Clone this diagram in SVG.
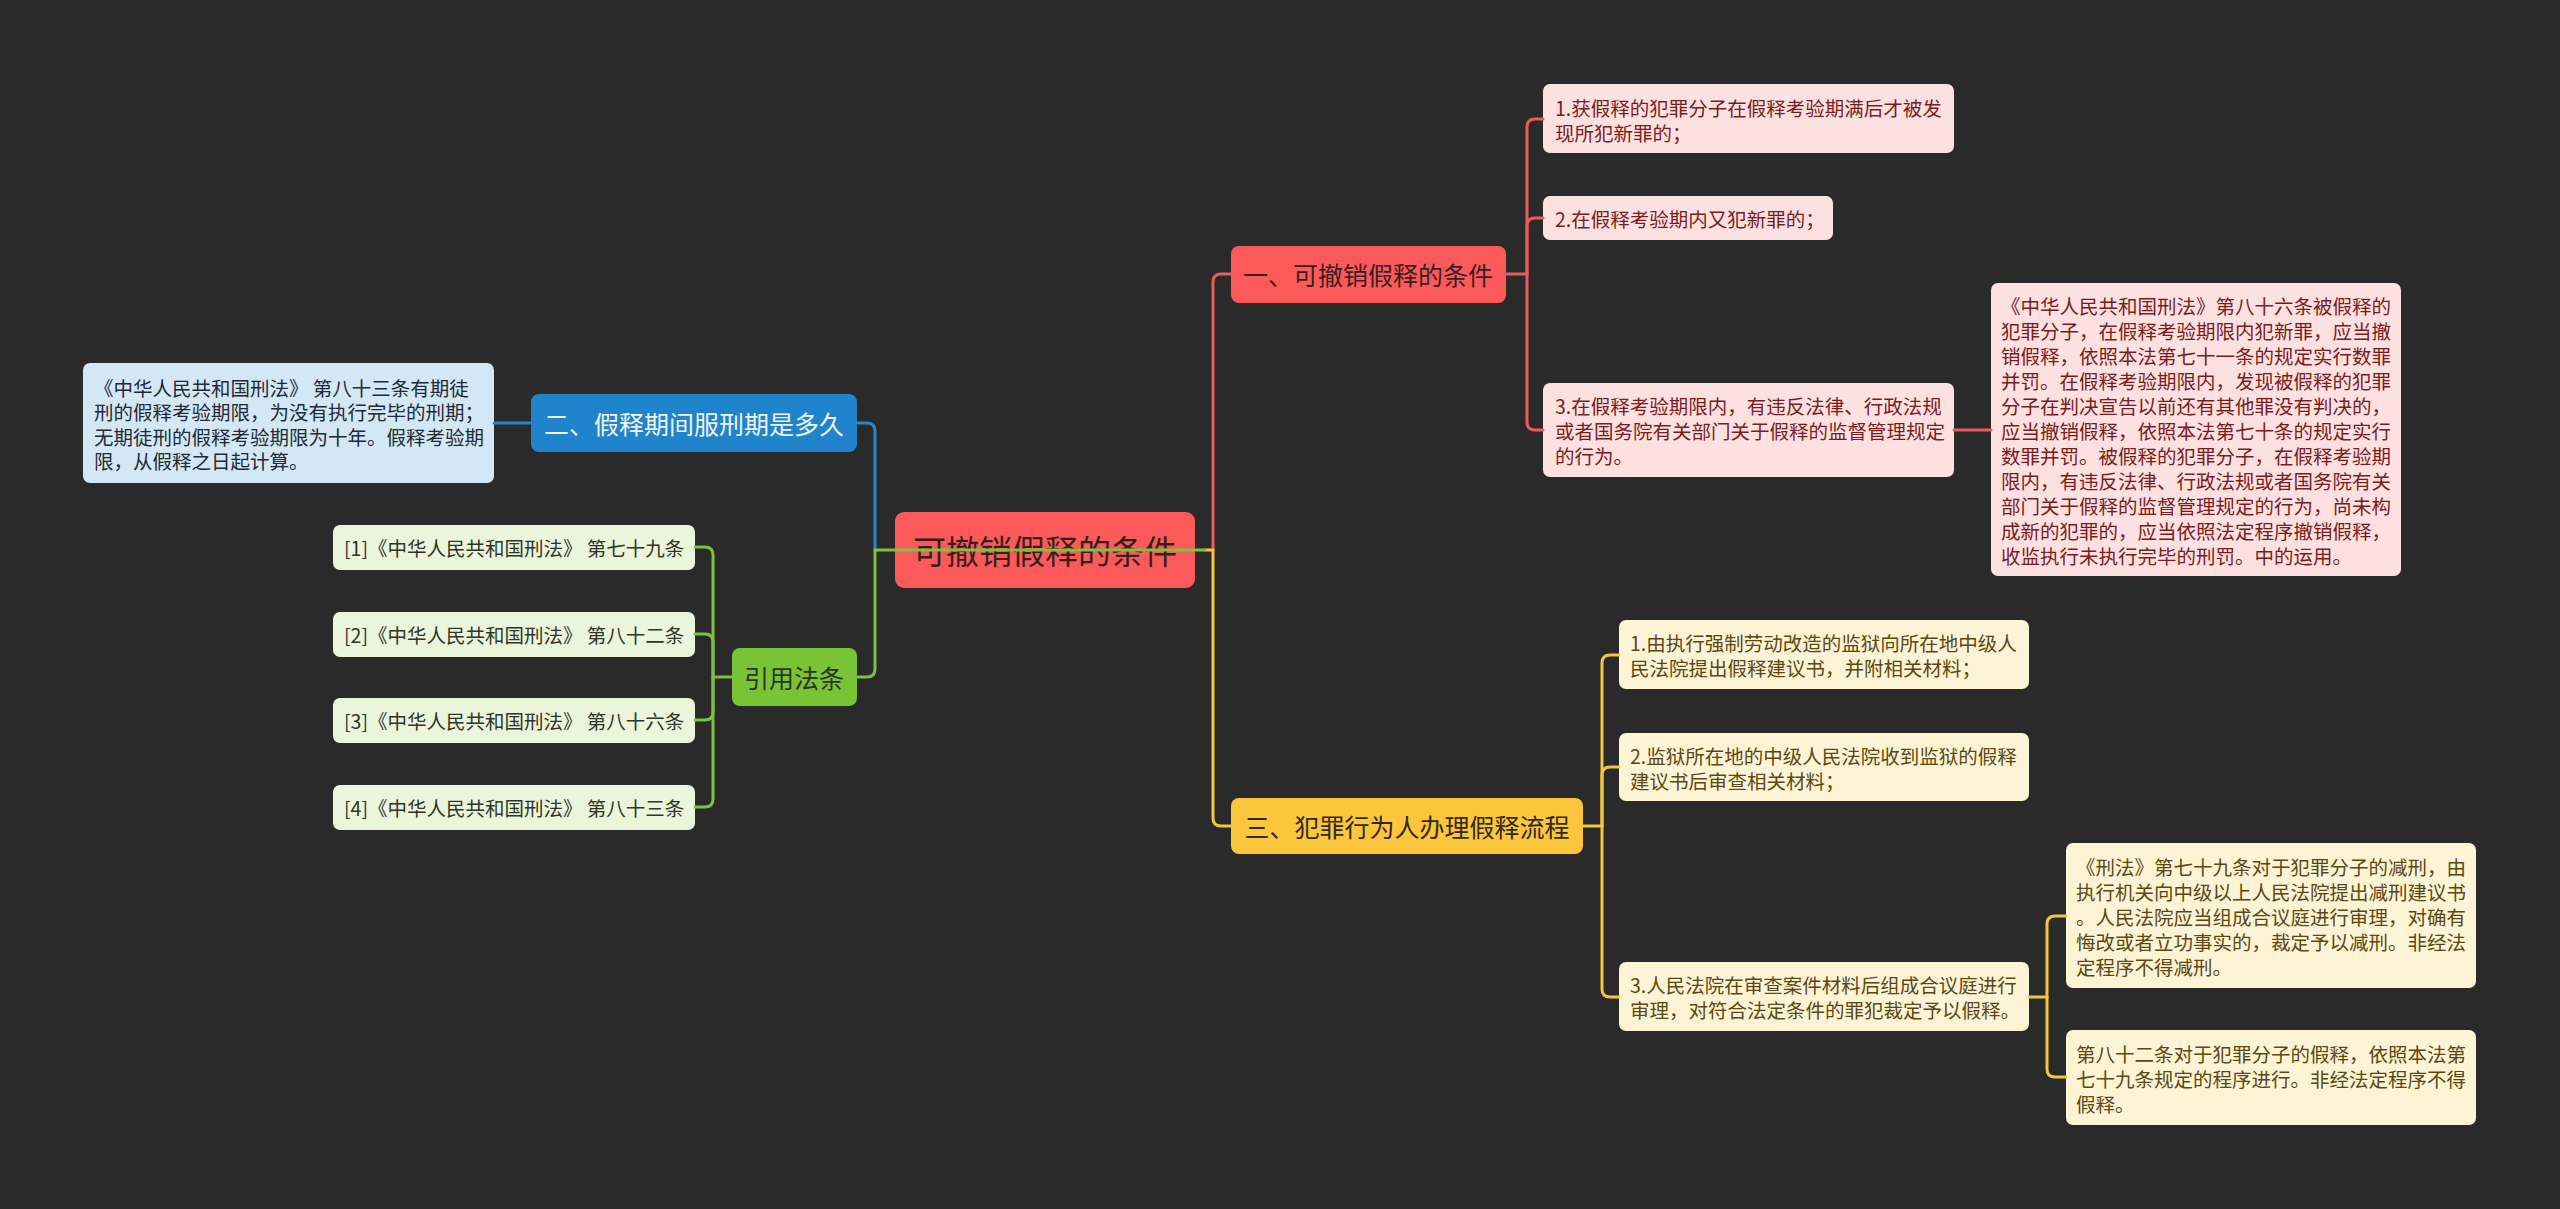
<svg xmlns="http://www.w3.org/2000/svg" width="2560" height="1209" viewBox="0 0 2560 1209">
<style>
text{font-family:"Noto Sans CJK SC","Noto Sans CJK JP",sans-serif;dominant-baseline:central}
.s{font-size:19.5px}
.l1{font-size:25px;text-anchor:middle}
.rt{font-size:33px;text-anchor:middle;fill:#3a1e1e}
.con path{fill:none;stroke-width:3;stroke-linecap:round}
.red{stroke:#e85c5c}.blue{stroke:#2a86c8}.green{stroke:#7cc23c}.yel{stroke:#f2c640}
.pk{fill:#fde1e1}.pkt{fill:#7a1c1c}
.yl{fill:#fdf4d6}.ylt{fill:#5c4712}
.gr{fill:#ebf5dc}.grt{fill:#2f3528}
.bl{fill:#d4e7f4}.blt{fill:#1e2a36}
</style>
<rect width="2560" height="1209" fill="#2a2a2a"/>

<g id="root"><rect x="895" y="512" width="300" height="76" rx="9" fill="#fc5a5a"/><text class="rt" x="1045" y="550">可撤销假释的条件</text></g>

<g id="n1"><rect x="1231" y="246" width="275" height="57" rx="8" fill="#fc5a5a"/><text class="l1" x="1368" y="274" fill="#3a1e1e">一、可撤销假释的条件</text></g>
<g id="n1c1"><rect class="pk" x="1543" y="84" width="411" height="69" rx="7"/><text class="s pkt"><tspan x="1555" y="107">1.获假释的犯罪分子在假释考验期满后才被发</tspan><tspan x="1555" y="132">现所犯新罪的；</tspan></text></g>
<g id="n1c2"><rect class="pk" x="1543" y="196" width="290" height="44" rx="7"/><text class="s pkt" x="1555" y="218">2.在假释考验期内又犯新罪的；</text></g>
<g id="n1c3"><rect class="pk" x="1543" y="383" width="411" height="94" rx="7"/><text class="s pkt"><tspan x="1555" y="405">3.在假释考验期限内，有违反法律、行政法规</tspan><tspan x="1555" y="430">或者国务院有关部门关于假释的监督管理规定</tspan><tspan x="1555" y="455">的行为。</tspan></text></g>
<g id="n1c3a"><rect class="pk" x="1991" y="283" width="410" height="293" rx="7"/><text class="s pkt"><tspan x="2001" y="305">《中华人民共和国刑法》第八十六条被假释的</tspan><tspan x="2001" y="330">犯罪分子，在假释考验期限内犯新罪，应当撤</tspan><tspan x="2001" y="355">销假释，依照本法第七十一条的规定实行数罪</tspan><tspan x="2001" y="380">并罚。在假释考验期限内，发现被假释的犯罪</tspan><tspan x="2001" y="405">分子在判决宣告以前还有其他罪没有判决的，</tspan><tspan x="2001" y="430">应当撤销假释，依照本法第七十条的规定实行</tspan><tspan x="2001" y="455">数罪并罚。被假释的犯罪分子，在假释考验期</tspan><tspan x="2001" y="480">限内，有违反法律、行政法规或者国务院有关</tspan><tspan x="2001" y="505">部门关于假释的监督管理规定的行为，尚未构</tspan><tspan x="2001" y="530">成新的犯罪的，应当依照法定程序撤销假释，</tspan><tspan x="2001" y="555">收监执行未执行完毕的刑罚。中的运用。</tspan></text></g>

<g id="n3"><rect x="1231" y="798" width="352" height="56" rx="8" fill="#fcc63c"/><text class="l1" x="1407" y="826" fill="#33291a">三、犯罪行为人办理假释流程</text></g>
<g id="n3c1"><rect class="yl" x="1619" y="620" width="410" height="69" rx="7"/><text class="s ylt"><tspan x="1630" y="642">1.由执行强制劳动改造的监狱向所在地中级人</tspan><tspan x="1630" y="667">民法院提出假释建议书，并附相关材料；</tspan></text></g>
<g id="n3c2"><rect class="yl" x="1619" y="733" width="410" height="68" rx="7"/><text class="s ylt"><tspan x="1630" y="755">2.监狱所在地的中级人民法院收到监狱的假释</tspan><tspan x="1630" y="780">建议书后审查相关材料；</tspan></text></g>
<g id="n3c3"><rect class="yl" x="1619" y="962" width="410" height="69" rx="7"/><text class="s ylt"><tspan x="1630" y="984">3.人民法院在审查案件材料后组成合议庭进行</tspan><tspan x="1630" y="1009">审理，对符合法定条件的罪犯裁定予以假释。</tspan></text></g>
<g id="n3c3a"><rect class="yl" x="2066" y="843" width="410" height="145" rx="7"/><text class="s ylt"><tspan x="2076" y="866">《刑法》第七十九条对于犯罪分子的减刑，由</tspan><tspan x="2076" y="891">执行机关向中级以上人民法院提出减刑建议书</tspan><tspan x="2076" y="916">。人民法院应当组成合议庭进行审理，对确有</tspan><tspan x="2076" y="941">悔改或者立功事实的，裁定予以减刑。非经法</tspan><tspan x="2076" y="966">定程序不得减刑。</tspan></text></g>
<g id="n3c3b"><rect class="yl" x="2066" y="1030" width="410" height="95" rx="7"/><text class="s ylt"><tspan x="2076" y="1053">第八十二条对于犯罪分子的假释，依照本法第</tspan><tspan x="2076" y="1078">七十九条规定的程序进行。非经法定程序不得</tspan><tspan x="2076" y="1103">假释。</tspan></text></g>

<g id="n2"><rect x="531" y="394" width="326" height="58" rx="8" fill="#1f84cc"/><text class="l1" x="694" y="423" fill="#f2f2f2">二、假释期间服刑期是多久</text></g>
<g id="n2c1"><rect class="bl" x="83" y="363" width="411" height="120" rx="7"/><text class="s blt"><tspan x="94" y="387">《中华人民共和国刑法》 第八十三条有期徒</tspan><tspan x="94" y="411">刑的假释考验期限，为没有执行完毕的刑期；</tspan><tspan x="94" y="436">无期徒刑的假释考验期限为十年。假释考验期</tspan><tspan x="94" y="460">限，从假释之日起计算。</tspan></text></g>

<g id="n4"><rect x="732" y="648" width="125" height="58" rx="8" fill="#78c434"/><text class="l1" x="794" y="677" fill="#2a3420">引用法条</text></g>
<g id="n4c1"><rect class="gr" x="333" y="525" width="362" height="45" rx="7"/><text class="s grt" x="344" y="547">[1]《中华人民共和国刑法》 第七十九条</text></g>
<g id="n4c2"><rect class="gr" x="333" y="612" width="362" height="45" rx="7"/><text class="s grt" x="344" y="634">[2]《中华人民共和国刑法》 第八十二条</text></g>
<g id="n4c3"><rect class="gr" x="333" y="698" width="362" height="45" rx="7"/><text class="s grt" x="344" y="720">[3]《中华人民共和国刑法》 第八十六条</text></g>
<g id="n4c4"><rect class="gr" x="333" y="785" width="362" height="45" rx="7"/><text class="s grt" x="344" y="807">[4]《中华人民共和国刑法》 第八十三条</text></g>

<g class="con" id="connectors">
<path class="red" d="M1213,550 V282 Q1213,274 1221,274 H1231"/>
<path class="yel" d="M1205,550 H1213 V818 Q1213,826 1221,826 H1231"/>
<path class="blue" d="M875,550 V431 Q875,423 867,423 H857"/>
<path class="green" d="M1205,550 H875 V669 Q875,677 867,677 H857"/>
<path class="red" d="M1506,274 H1527 V127 Q1527,119 1535,119 H1543"/>
<path class="red" d="M1527,274 V226 Q1527,218 1535,218 H1543"/>
<path class="red" d="M1527,274 V422 Q1527,430 1535,430 H1543"/>
<path class="red" d="M1954,430 H1991"/>
<path class="yel" d="M1583,826 H1602 V663 Q1602,655 1610,655 H1619"/>
<path class="yel" d="M1602,826 V775 Q1602,767 1610,767 H1619"/>
<path class="yel" d="M1602,826 V989 Q1602,997 1610,997 H1619"/>
<path class="yel" d="M2029,997 H2047 V924 Q2047,916 2055,916 H2066"/>
<path class="yel" d="M2047,997 V1069 Q2047,1077 2055,1077 H2066"/>
<path class="blue" d="M531,423 H494"/>
<path class="green" d="M732,677 H713 V555 Q713,547 705,547 H695"/>
<path class="green" d="M713,677 V642 Q713,634 705,634 H695"/>
<path class="green" d="M713,677 V712 Q713,720 705,720 H695"/>
<path class="green" d="M713,677 V799 Q713,807 705,807 H695"/>
</g>
</svg>
